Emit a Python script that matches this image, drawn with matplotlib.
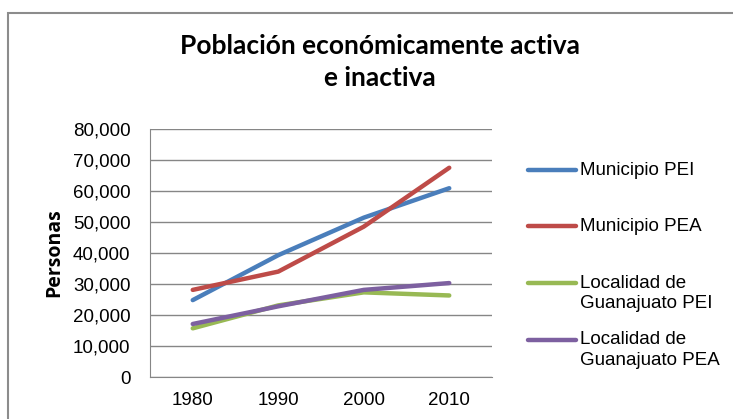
import matplotlib.pyplot as plt
from matplotlib.lines import Line2D
from matplotlib.patches import Rectangle
from matplotlib.ticker import FuncFormatter

years = ["1980", "1990", "2000", "2010"]
municipio_pei = [24800, 39300, 51400, 60900]
municipio_pea = [28100, 34000, 48500, 67500]
localidad_pei = [15700, 23100, 27300, 26300]
localidad_pea = [17100, 22800, 28100, 30300]
labels = ["Municipio PEI", "Municipio PEA",
          "Localidad de\nGuanajuato PEI", "Localidad de\nGuanajuato PEA"]
colors = ["#4A7EBB", "#BE4B48", "#98B954", "#7D60A0"]

W, H = 733, 419
fig = plt.figure(figsize=(W / 100, H / 100), dpi=100)
arial = ["Liberation Sans", "DejaVu Sans"]

# outer chart frame (cut off at right and bottom)
fig.patches.append(Rectangle((8 / W, -0.1), 1.0, 1 - 13 / H + 0.1,
                             transform=fig.transFigure, fill=False,
                             edgecolor="#8C8C8C", linewidth=1.5))

ax = fig.add_axes([150 / W, 1 - 377 / H, 342 / W, 248 / H])

series = [municipio_pei, municipio_pea, localidad_pei, localidad_pea]
x = range(len(years))
for vals, c in zip(series, colors):
    ax.plot(x, vals, color=c, linewidth=3.2, solid_capstyle="round")

ax.set_xlim(-0.5, 3.5)
ax.set_ylim(0, 80000)
ax.set_yticks(range(0, 80001, 10000))
ax.yaxis.set_major_formatter(FuncFormatter(lambda v, p: f"{int(v):,}"))
ax.set_xticks(list(x))
ax.set_xticklabels(years)
ax.grid(axis="y", color="#868686", linewidth=1)
ax.set_axisbelow(True)
for s in ["top", "right"]:
    ax.spines[s].set_visible(False)
for s in ["left", "bottom"]:
    ax.spines[s].set_color("#868686")
ax.tick_params(length=0, labelsize=13.5, colors="#000000")
ax.tick_params(axis="y", pad=14)
ax.tick_params(axis="x", pad=11)
for t in ax.get_xticklabels() + ax.get_yticklabels():
    t.set_fontfamily(arial)

ax.set_ylabel("Personas", fontsize=14, fontweight="bold", family=["Open Sans", "DejaVu Sans"])
ax.yaxis.set_label_coords(-86 / 342, 0.5)

fig.text(380 / W, 1 - 62 / H, "Población económicamente activa\ne inactiva",
         ha="center", va="center", fontsize=19, fontweight="bold",
         family=["Lato", "DejaVu Sans"], linespacing=1.45)

# legend drawn like Excel: handle aligned with the first text line
for i, (lab, c) in enumerate(zip(labels, colors)):
    y0 = 170 + 56.5 * i
    fig.add_artist(Line2D([528 / W, 576 / W], [1 - y0 / H, 1 - y0 / H], color=c,
                          linewidth=3.2, solid_capstyle="round",
                          transform=fig.transFigure))
    for k, part in enumerate(lab.split("\n")):
        fig.text(580 / W, 1 - (y0 + 20.5 * k) / H, part, ha="left", va="center",
                 fontsize=13.5, family=arial)

fig.savefig("out.png", dpi=100)
